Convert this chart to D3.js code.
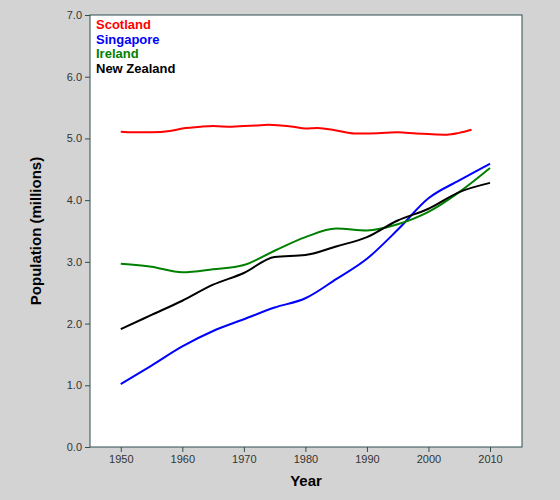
<!DOCTYPE html>
<html><head><meta charset="utf-8">
<script src="https://cdn.jsdelivr.net/npm/d3@7"></script>
<style>body{margin:0;background:#d3d3d3;font-family:"Liberation Sans",Arial,sans-serif}</style>
</head><body><div id="chart"></div>
<script>
// data
let years_sc = [1950,1952,1955,1958,1960,1963,1965,1968,1970,1972,1974,1976,1978,1980,1982,1985,1988,1990,1993,1995,1998,2000,2003,2005,2007];
let scotland = [5.11,5.10,5.10,5.12,5.16,5.19,5.20,5.19,5.20,5.21,5.22,5.21,5.19,5.16,5.17,5.13,5.08,5.08,5.09,5.10,5.08,5.07,5.06,5.09,5.14];
let years = [1950,1955,1960,1965,1970,1975,1980,1985,1990,1995,2000,2005,2010];
let singapore = [1.02,1.32,1.63,1.88,2.07,2.26,2.41,2.72,3.05,3.52,4.03,4.32,4.59];
let ireland = [2.97,2.92,2.83,2.88,2.95,3.18,3.40,3.54,3.51,3.61,3.81,4.13,4.52];
let new_zealand = [1.91,2.14,2.37,2.63,2.82,3.08,3.11,3.25,3.40,3.67,3.86,4.13,4.28];
let x_ticks = [1950,1960,1970,1980,1990,2000,2010];
let y_ticks = [0,1,2,3,4,5,6,7];

let series = [
    {name:"Scotland", color:"#ff0000", x:years_sc, y:scotland},
    {name:"Singapore", color:"#0000ff", x:years, y:singapore},
    {name:"Ireland", color:"#008000", x:years, y:ireland},
    {name:"New Zealand", color:"#000000", x:years, y:new_zealand}
];

let width_svg = 560, height_svg = 500;
let margin = {top:15, right:38, left:90, bottom:53};
let width = width_svg - margin.left - margin.right;
let height = height_svg - margin.top - margin.bottom;

let svg = d3.select("#chart").append("svg").attr("width", width_svg).attr("height", height_svg);
let g = svg.append("g").attr("transform", `translate(${margin.left},${margin.top})`);

g.append("rect").attr("width", width).attr("height", height).attr("fill","#fff").attr("stroke","#2f4f4f");

let x = d3.scaleLinear().domain([1945,2015.2]).range([0,width]);
let y = d3.scaleLinear().domain([0,7]).range([height,0]);

let xAxis = g.append("g").attr("transform",`translate(0,${height})`)
    .call(d3.axisBottom(x).tickValues(x_ticks).tickFormat(d3.format("d")).tickSize(5));
let yAxis = g.append("g").call(d3.axisLeft(y).tickValues(y_ticks).tickSize(5));
[xAxis,yAxis].forEach(a => {
    a.select(".domain").remove();
    a.selectAll("line").attr("stroke","#2f4f4f");
    a.selectAll("text").attr("font-size",11).attr("fill","#333").attr("font-family","Liberation Sans, Arial");
});

let line = d3.line().curve(d3.curveMonotoneX);
series.forEach(s => {
    g.append("path").attr("fill","none").attr("stroke",s.color).attr("stroke-width",2)
     .attr("d", line(s.x.map((v,i) => [x(v), y(s.y[i])])));
});

// legend
series.forEach((s,i) => {
    g.append("text").attr("x",6).attr("y",14 + i*14.5).attr("fill",s.color)
     .attr("font-weight","bold").attr("font-size",13).text(s.name);
});

svg.append("text").attr("x", margin.left + width/2).attr("y", 486).attr("text-anchor","middle")
   .attr("font-weight","bold").attr("font-size",15).text("Year");
svg.append("text").attr("transform",`translate(41,${margin.top + height/2}) rotate(-90)`)
   .attr("text-anchor","middle").attr("font-weight","bold").attr("font-size",15).text("Population (millions)");
</script></body></html>
